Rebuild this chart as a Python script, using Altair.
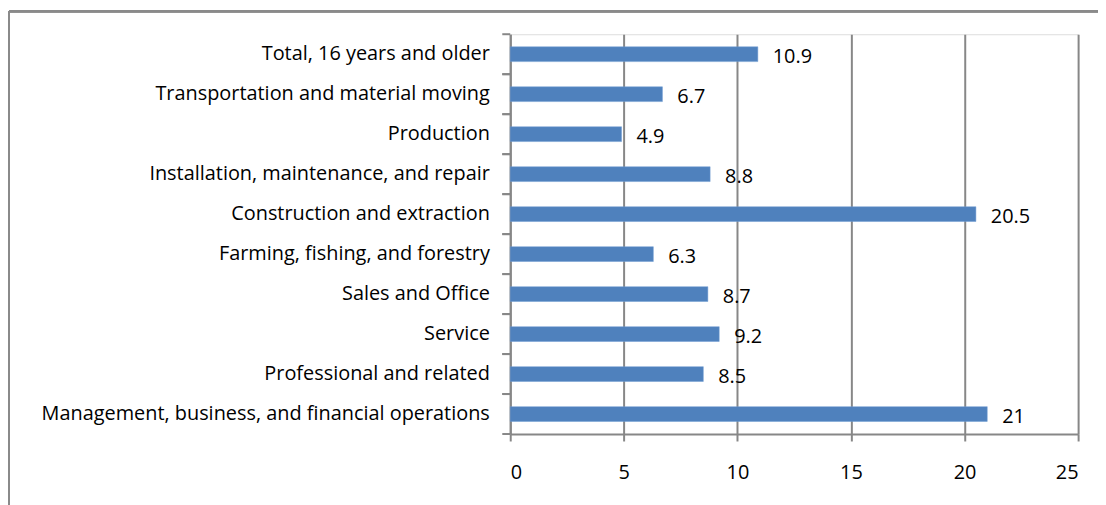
import altair as alt
import pandas as pd

categories = [
    "Total, 16 years and older",
    "Transportation and material moving",
    "Production",
    "Installation,  maintenance, and repair",
    "Construction and extraction",
    "Farming, fishing, and forestry",
    "Sales and Office",
    "Service",
    "Professional and related",
    "Management, business, and financial operations",
]
values = [10.9, 6.7, 4.9, 8.8, 20.5, 6.3, 8.7, 9.2, 8.5, 21]
x_ticks = [0, 5, 10, 15, 20, 25]

df = pd.DataFrame({"cat": categories, "val": values})

FONT = "Open Sans"
FS = 20
GRID = "#878787"
BLUE = "#4F81BD"

y_scale = alt.Scale(paddingInner=0, paddingOuter=0)

y_enc = alt.Y(
    "cat:N",
    sort=categories,
    scale=y_scale,
    axis=alt.Axis(
        title=None,
        labelFont=FONT,
        labelFontSize=FS,
        labelColor="black",
        labelPadding=21,
        ticks=False,
        domainColor=GRID,
        domainWidth=2,
        grid=False,
        labelLimit=700,
    ),
)
x_enc = alt.X(
    "val:Q",
    scale=alt.Scale(domain=[0, 25], nice=False),
    axis=alt.Axis(
        title=None,
        values=x_ticks,
        labelFont=FONT,
        labelFontSize=FS,
        labelColor="black",
        labelPadding=22,
        tickSize=7,
        tickColor=GRID,
        tickWidth=2,
        domainColor=GRID,
        domainWidth=2,
        grid=True,
        gridColor=GRID,
        gridWidth=2,
        gridOpacity=1,
    ),
)

bars = alt.Chart(df).mark_bar(
    color=BLUE, stroke="#6f9bd3", strokeWidth=0.5, height={"band": 0.37}
).encode(x=x_enc, y=y_enc)
labels = alt.Chart(df).mark_text(
    align="left", baseline="middle", dx=15, dy=3, font=FONT, fontSize=FS, color="black"
).encode(
    x=alt.X("val:Q"),
    y=alt.Y("cat:N", sort=categories, bandPosition=0.5),
    text=alt.Text("val:Q"),
)

# category tick marks on band boundaries (top edge of each band, plus the bottom)
yticks = alt.Chart(df).mark_tick(
    color=GRID, orient="horizontal", size=8, thickness=2, opacity=1, yOffset=-20.1
).encode(
    y=alt.Y("cat:N", sort=categories),
    x=alt.value(-4),
)
ytick_bottom = alt.Chart(df).mark_tick(
    color=GRID, orient="horizontal", size=8, thickness=2, opacity=1, yOffset=20.1
).encode(
    y=alt.Y("cat:N", sort=categories),
    x=alt.value(-4),
)

frame_top = alt.Chart(df).mark_rule(color="#8a8a8a", strokeWidth=2).encode(
    x=alt.value(-504), x2=alt.value(700), y=alt.value(-23)
)
frame_left = alt.Chart(df).mark_rule(color="#8a8a8a", strokeWidth=2).encode(
    x=alt.value(-504), y=alt.value(-23), y2=alt.value(600)
)

chart = (
    alt.layer(bars, labels, yticks, ytick_bottom, frame_top, frame_left)
    .properties(
        width=571,
        height=402,
        autosize=alt.AutoSizeParams(type="none"),
        padding={"left": 505, "top": 25, "right": 20, "bottom": 70},
    )
    .configure_view(stroke=None)
    .configure(background="white")
)

chart.save("out.html", embed_options={"renderer": "svg", "actions": False})
